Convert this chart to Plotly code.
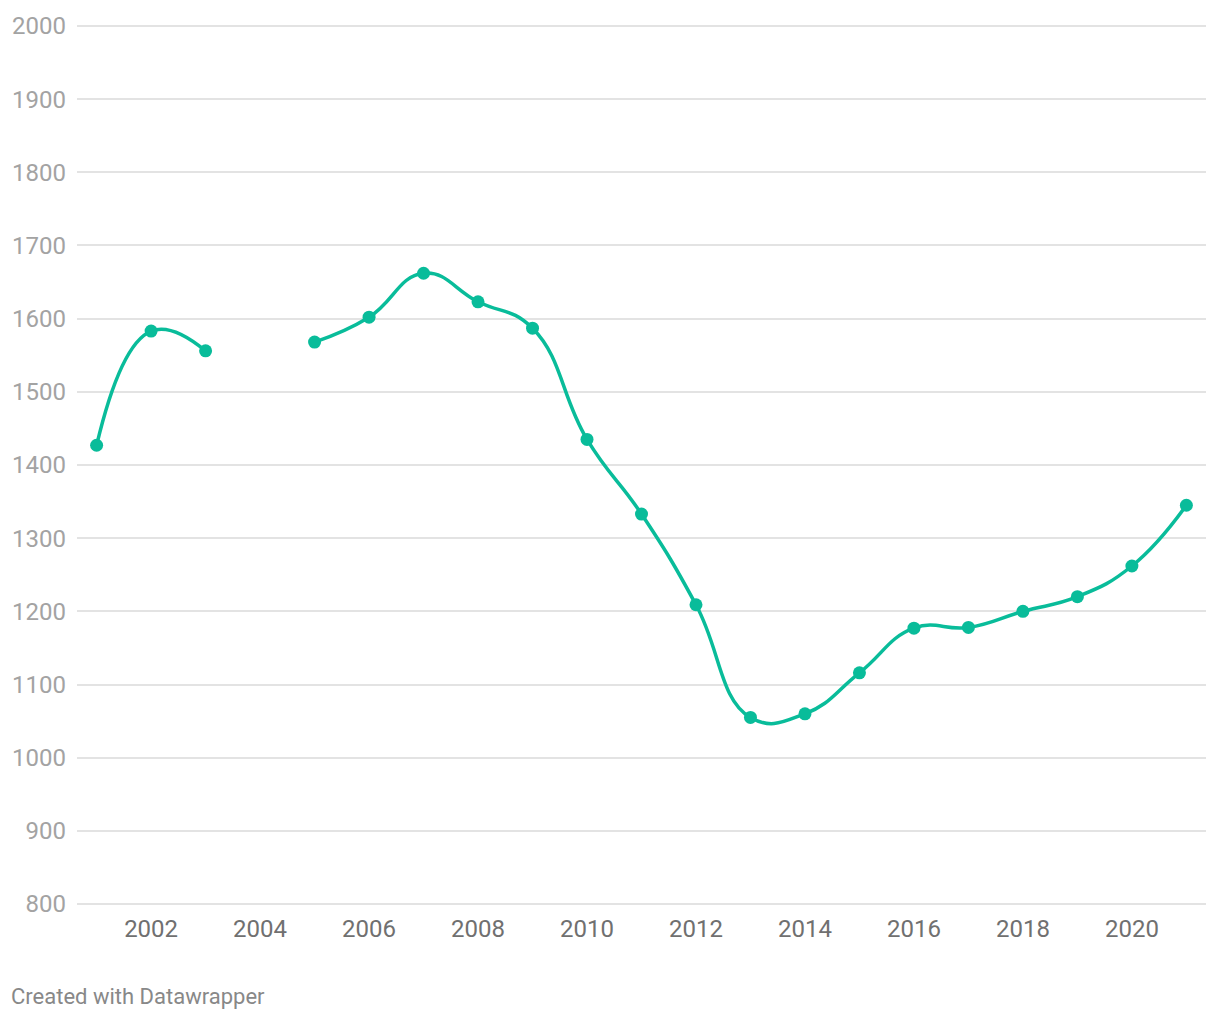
# Yearly values, Datawrapper-style spline line chart (gap in 2004)

import plotly.graph_objects as go

# data
years = [2001, 2002, 2003, 2004, 2005, 2006, 2007, 2008, 2009, 2010, 2011,
         2012, 2013, 2014, 2015, 2016, 2017, 2018, 2019, 2020, 2021]
values = [1427, 1583, 1556, None, 1568, 1602, 1662, 1623, 1587, 1435, 1333,
          1209, 1055, 1060, 1116, 1177, 1178, 1200, 1220, 1262, 1345]

y_ticks = list(range(800, 2001, 100))
x_ticks = list(range(2002, 2021, 2))

green = "rgb(9,188,154)"

fig = go.Figure()
fig.add_trace(go.Scatter(
    x=years, y=values,
    mode="lines+markers",
    line=dict(color=green, width=3.5, shape="spline", smoothing=1.3),
    marker=dict(color=green, size=13),
    connectgaps=False,
    hoverinfo="x+y",
))

# a little padding on the y range so the 800 and 2000 grid lines are drawn
fig.update_layout(
    width=1220, height=1020,
    margin=dict(l=76, r=14, t=21, b=113),
    paper_bgcolor="white", plot_bgcolor="white",
    font=dict(family="Roboto", size=24),
    showlegend=False,
    xaxis=dict(
        range=[2000.64, 2021.36],
        tickvals=x_ticks,
        showgrid=False, zeroline=False, showline=False,
        ticks="",
        tickfont=dict(color="#707070", size=24),
        ticklabelstandoff=5,
    ),
    yaxis=dict(
        range=[796, 2004],
        tickvals=y_ticks,
        showgrid=True, gridcolor="#e3e3e3", gridwidth=2,
        zeroline=False, showline=False,
        ticks="",
        tickfont=dict(color="#a3a3a3", size=24),
        ticklabelstandoff=10,
    ),
    annotations=[dict(
        text="Created with Datawrapper",
        xref="paper", yref="paper",
        x=(8 - 76) / 1130, y=(907 - 997) / 886,
        xanchor="left", yanchor="middle",
        showarrow=False,
        font=dict(family="Roboto", size=22, color="#888888"),
    )],
)

fig.write_html("out.html", config={"displayModeBar": False},
               post_script="document.body.style.margin='0';")
